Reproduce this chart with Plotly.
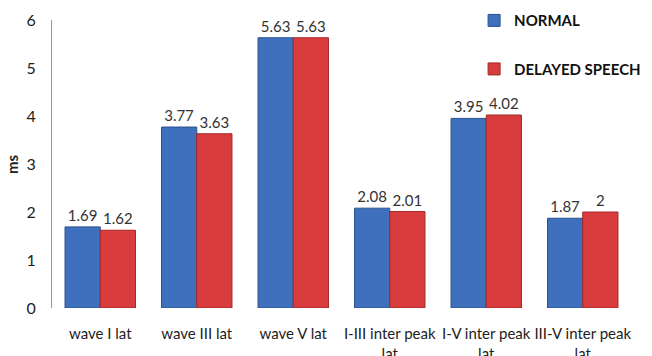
import plotly.graph_objects as go

categories = ["wave I lat", "wave III lat", "wave V lat",
              "I-III inter peak<br>lat", "I-V inter peak<br>lat", "III-V inter peak<br>lat"]
normal = [1.69, 3.77, 5.63, 2.08, 3.95, 1.87]
delayed = [1.62, 3.63, 5.63, 2.01, 4.02, 2]
normal_labels = ["1.69", "3.77", "5.63", "2.08", "3.95", "1.87"]
delayed_labels = ["1.62", "3.63", "5.63", "2.01", "4.02", "2"]

font_family = "Lato, Open Sans, Liberation Sans, sans-serif"

fig = go.Figure()
fig.add_trace(go.Bar(
    x=categories, y=normal, name="<b>NORMAL</b>", legendgroup="a",
    text=normal_labels, textposition="outside", cliponaxis=False,
    textfont=dict(size=15, color="#333333", family=font_family),
    marker=dict(color="#3e70be", line=dict(color="#2a528f", width=1)),
))
fig.add_trace(go.Bar(
    x=categories, y=delayed, name="<b>DELAYED SPEECH</b>", legendgroup="b",
    text=delayed_labels, textposition="outside", cliponaxis=False,
    textfont=dict(size=15, color="#333333", family=font_family),
    marker=dict(color="#d83c3c", line=dict(color="#a32727", width=1)),
))

fig.update_layout(
    width=644, height=348,
    margin=dict(l=44, r=21, t=12, b=48, autoexpand=False),
    paper_bgcolor="white", plot_bgcolor="white",
    font=dict(family=font_family, size=16, color="#222222"),
    barmode="group", bargap=0.27, bargroupgap=0,
    showlegend=True,
    legend=dict(x=0.729, y=1.055, xanchor="left", yanchor="top",
                font=dict(size=15, color="#111111", family=font_family),
                tracegroupgap=26, bgcolor="rgba(0,0,0,0)"),
    xaxis=dict(showline=False, ticks="", showgrid=False, automargin=False,
               tickangle=0, ticklabelstandoff=15,
               tickfont=dict(size=15, color="#222222")),
    yaxis=dict(range=[0, 6], dtick=1, showgrid=False, showline=True,
               linecolor="#a09590", linewidth=1, ticks="", zeroline=False,
               automargin=False, ticklabelstandoff=12,
               tickfont=dict(size=16, color="#222222")),
    annotations=[dict(text="<b>ms</b>", xref="paper", yref="paper",
                      x=-0.069, y=0.5, textangle=-90, showarrow=False,
                      font=dict(size=15, color="#222222"),
                      xanchor="center", yanchor="middle")],
)

fig.write_html("out.html")
